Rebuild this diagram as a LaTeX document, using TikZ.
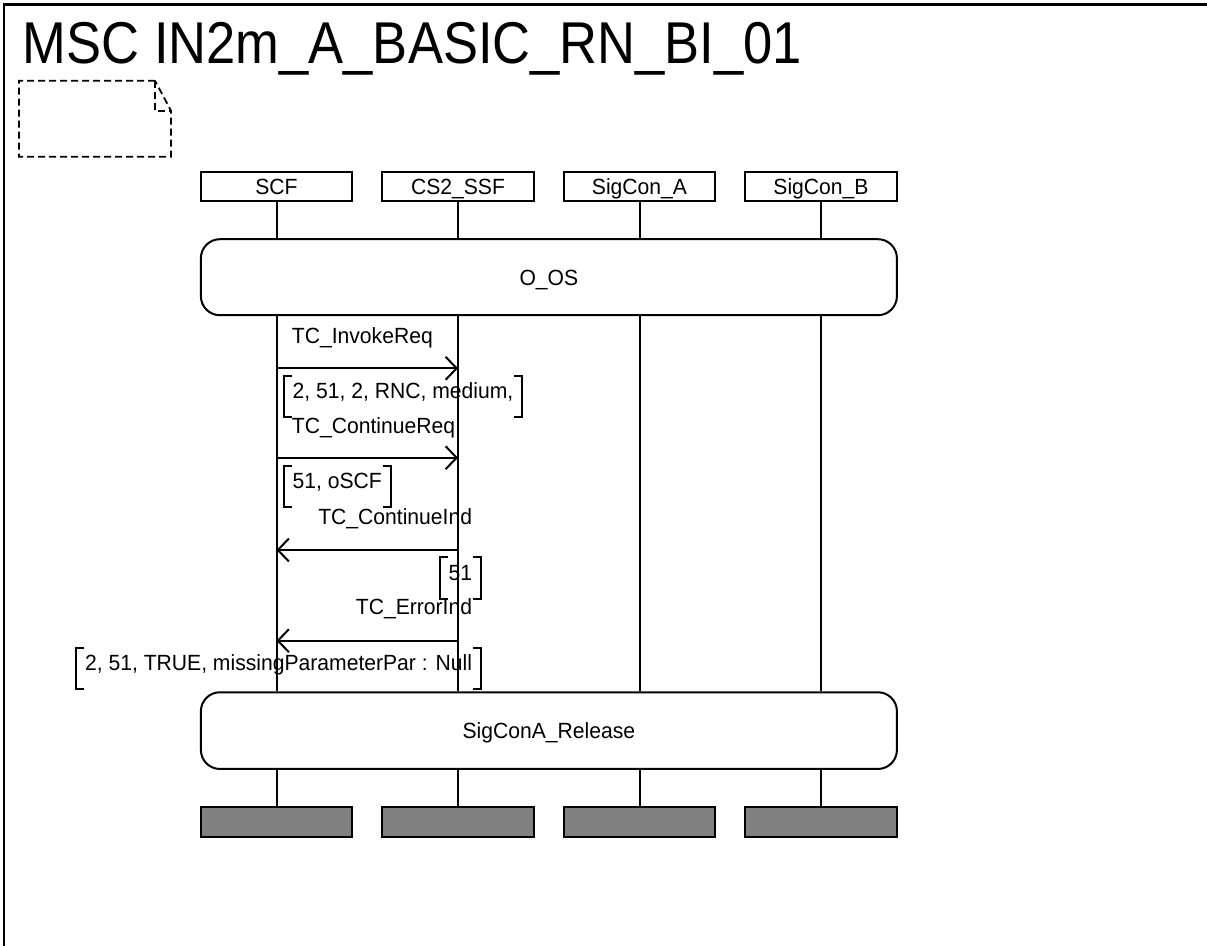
\documentclass[tikz,border=0pt]{standalone}
\usepackage{fontspec}
\setmainfont[FakeStretch=0.96]{Liberation Sans}
\newfontfamily\titlefont[FakeStretch=0.89]{Liberation Sans}
\usetikzlibrary{arrows.meta,positioning}

% square brackets round a message parameter node
\newcommand{\parbrackets}[1]{%
  \draw[bracket] ([xshift=8pt]#1.north west) -- (#1.north west) -- (#1.south west) -- ([xshift=8pt]#1.south west);
  \draw[bracket] ([xshift=-8pt]#1.north east) -- (#1.north east) -- (#1.south east) -- ([xshift=-8pt]#1.south east);}

\begin{document}
\begin{tikzpicture}[
    x=1pt, y=-1pt,
    every node/.style={font=\fontsize{22}{26}\selectfont},
    instance/.style={draw, line width=2pt, minimum width=151.5pt, minimum height=29.5pt, inner sep=0pt, text height=17pt, text depth=1pt},
    instend/.style={instance, fill=gray, minimum height=30pt},
    reference/.style={draw, line width=2pt, rounded corners=19pt, minimum width=696pt, minimum height=76pt, text height=17pt, text depth=1pt},
    lifeline/.style={line width=2pt},
    msgtext/.style={inner sep=0pt},
    param/.style={inner xsep=8.5pt, inner ysep=0pt, text height=22.5pt, text depth=18.5pt},
    bracket/.style={line width=2pt},
    arrow/.style={-{Straight Barb[length=11pt, width=23pt]}, line width=2pt},
    comment/.style={line width=1.8pt, dash pattern=on 7pt off 4pt}
]
\useasboundingbox (0,0) rectangle (1207,945);
\clip (0,0) rectangle (1207,945);

% Frame and title
\draw[line width=2.5pt] (4,960) -- (4,4.5) -- (1220,4.5);
\node[anchor=base west, inner sep=0pt, font=\titlefont\fontsize{59}{64}\selectfont] (title) at (22.7,63.3) {MSC IN2m\_A\_BASIC\_RN\_BI\_01};

% Comment symbol
\draw[comment] (155,80.7) -- (19,80.7) -- (19,156.7) -- (171,156.7) -- (171,110.7) -- cycle;
\draw[comment] (155,80.7) -- (155,110.7) -- (171,110.7);

% Instances
\node[instance] (scf) at (276.5,186.3) {SCF};
\node[instance] (cs2) at (458,186.3) {CS2\_SSF};
\node[instance] (siga) at (639.5,186.3) {SigCon\_A};
\node[instance] (sigb) at (821,186.3) {SigCon\_B};

% References
\node[reference] (oos) at (548.9,277.2) {O\_OS};
\node[reference, minimum height=76.7pt] (release) at (548.9,730.6) {SigConA\_Release};

% Instance ends
\node[instend] (scf-end) at (276.5,821.7) {};
\node[instend] (cs2-end) at (458,821.7) {};
\node[instend] (siga-end) at (639.5,821.7) {};
\node[instend] (sigb-end) at (821,821.7) {};

% Lifelines
\foreach \inst in {scf,cs2,siga,sigb} {
    \draw[lifeline] (\inst) -- (\inst |- oos.north);
    \draw[lifeline] (\inst |- oos.south) -- (\inst |- release.north);
    \draw[lifeline] (\inst |- release.south) -- (\inst-end);
}

% Messages
\coordinate (m1) at (0,368.3);
\coordinate (m2) at (0,457.7);
\coordinate (m3) at (0,550);
\coordinate (m4) at (0,640.7);

\node[msgtext, anchor=base west] (invoke) at (291.7,343) {TC\_InvokeReq};
\draw[arrow] (scf |- m1) -- (cs2 |- m1);
\node[param, anchor=north west] (p1) at (284,375.7) {2, 51, 2, RNC, medium,};
\parbrackets{p1}

\node[msgtext, anchor=base west] (contreq) at (291.7,433.3) {TC\_ContinueReq};
\draw[arrow] (scf |- m2) -- (cs2 |- m2);
\node[param, anchor=north west] (p2) at (284,466) {51, oSCF};
\parbrackets{p2}

\node[msgtext, anchor=base east] (contind) at (472.3,524) {TC\_ContinueInd};
\draw[arrow] (cs2 |- m3) -- (scf |- m3);
\node[param, anchor=north east] (p3) at (480.7,557.3) {51};
\parbrackets{p3}

\node[msgtext, anchor=base east] (errind) at (472.3,614.3) {TC\_ErrorInd};
\draw[arrow] (cs2 |- m4) -- (scf |- m4);
\node[param, anchor=north east] (p4) at (480.7,647.7) {2, 51, TRUE, missingParameterPar : Null};
\parbrackets{p4}

\end{tikzpicture}
\end{document}
